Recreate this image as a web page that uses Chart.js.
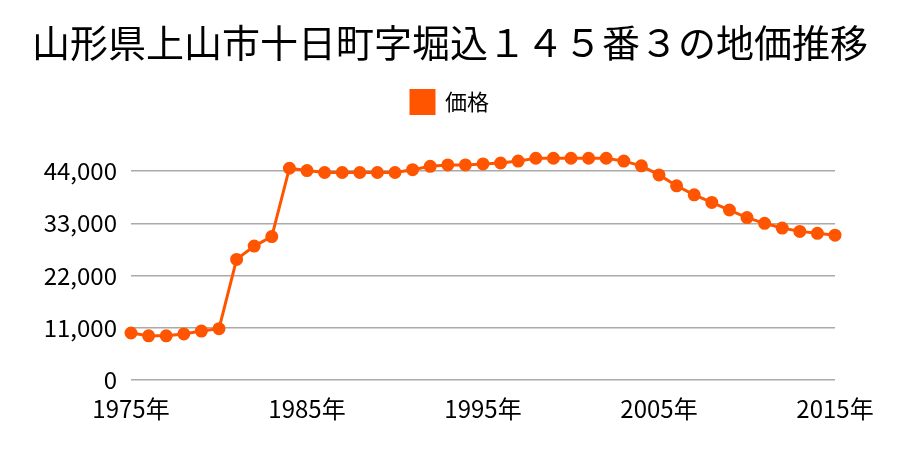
<!DOCTYPE html>
<html><head><meta charset="utf-8">
<script src="https://cdn.jsdelivr.net/npm/chart.js@4/dist/chart.umd.min.js"></script>
<style>html,body{margin:0;padding:0;background:#fff}#wrap{width:900px;height:450px}</style>
</head><body><div id="wrap"><canvas id="c"></canvas></div>
<script>
const years = [1975,1976,1977,1978,1979,1980,1981,1982,1983,1984,1985,1986,1987,1988,1989,1990,1991,1992,1993,1994,1995,1996,1997,1998,1999,2000,2001,2002,2003,2004,2005,2006,2007,2008,2009,2010,2011,2012,2013,2014,2015];
const prices = [9900,9300,9300,9700,10300,10800,25400,28200,30200,44600,44100,43700,43700,43700,43700,43700,44300,45000,45300,45300,45500,45700,46100,46700,46700,46700,46700,46700,46100,45100,43200,40900,39000,37400,35800,34200,33000,32000,31300,30900,30500];
const yTicks = [0,11000,22000,33000,44000];
const FONT = '"Noto Sans CJK JP","Noto Sans",sans-serif';
const ORANGE = 'rgb(255,85,0)';
new Chart(document.getElementById('c'), {
  type: 'line',
  data: {
    labels: years.map(y => y + '年'),
    datasets: [{
      label: '価格',
      data: prices,
      borderColor: ORANGE,
      backgroundColor: ORANGE,
      borderWidth: 3,
      pointRadius: 5,
      pointHoverRadius: 5,
      tension: 0
    }]
  },
  options: {
    responsive: true,
    maintainAspectRatio: false,
    animation: false,
    layout: { padding: { left: 10, right: 10, top: 0, bottom: 0 } },
    plugins: {
      title: { display: true, text: '山形県上山市十日町字堀込１４５番３の地価推移', color: '#000',
        font: { family: FONT, size: 38, weight: 'normal' }, padding: { top: 20, bottom: 12 } },
      legend: { display: true, labels: { color: '#000', boxWidth: 23, boxHeight: 23,
        font: { family: FONT, size: 22 }, padding: 13 } },
      tooltip: { enabled: false }
    },
    scales: {
      x: {
        offset: false,
        grid: { display: false },
        border: { display: false },
        afterFit: a => { a.height = 70; a.paddingRight = 65; },
        ticks: { color: '#000', autoSkip: false, maxRotation: 0, padding: 6,
          font: { family: FONT, size: 24 },
          callback: function(v, i) { return years[i] % 10 === 5 ? this.getLabelForValue(v) : null; } }
      },
      y: {
        min: 0, max: 54000,
        afterBuildTicks: axis => { axis.ticks = yTicks.map(v => ({ value: v })); },
        afterFit: a => { a.width = 121; },
        grid: { color: '#aaaaaa', lineWidth: 1.5, drawTicks: false },
        border: { display: false },
        ticks: { color: '#000', padding: 14, font: { family: FONT, size: 24 },
          callback: v => v.toLocaleString('en-US') }
      }
    }
  }
});
</script></body></html>
